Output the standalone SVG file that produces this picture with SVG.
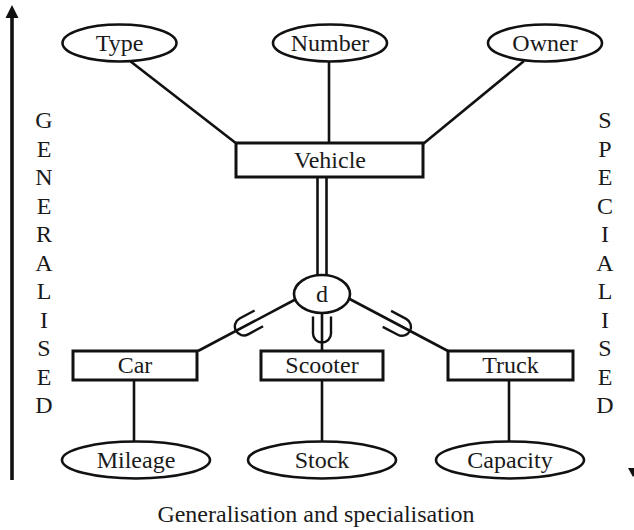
<svg xmlns="http://www.w3.org/2000/svg" width="634" height="530" viewBox="0 0 634 530" font-family="'Liberation Serif', 'DejaVu Serif', 'Times New Roman', Times, serif">
  <style>
    text { font-family: "Liberation Serif", "DejaVu Serif", "Times New Roman", Times, serif; font-size: 24px; fill: #1a1a1a; text-anchor: middle; }
    .shape { fill: #ffffff; stroke: #111111; stroke-width: 2.6; }
    .box { fill: #ffffff; stroke: #111111; stroke-width: 3; }
    .link { stroke: #111111; stroke-width: 2.6; fill: none; }
    .cup { stroke: #111111; stroke-width: 2.4; fill: none; }
  </style>
  <defs>
    <!-- subset symbol, opening towards -y -->
    <path id="cup" d="M -9 -14 V 3 A 9 9 0 0 0 9 3 V -14"/>
  </defs>

  <!-- direction arrows -->
  <g id="axis-generalised">
    <line x1="12" y1="16" x2="12" y2="480" stroke="#111" stroke-width="3.6"/>
    <polygon points="12,5 5.5,18 18.5,18" fill="#111"/>
  </g>
  <g id="axis-specialised">
    <polygon points="628,468 640,468 633,477" fill="#111"/>
  </g>

  <!-- side labels -->
  <g id="label-generalised">
    <text x="44" y="128">G</text>
    <text x="44" y="157">E</text>
    <text x="44" y="185">N</text>
    <text x="44" y="214">E</text>
    <text x="44" y="242">R</text>
    <text x="44" y="271">A</text>
    <text x="44" y="299">L</text>
    <text x="44" y="328">I</text>
    <text x="44" y="356">S</text>
    <text x="44" y="385">E</text>
    <text x="44" y="413">D</text>
  </g>
  <g id="label-specialised">
    <text x="605" y="128">S</text>
    <text x="605" y="157">P</text>
    <text x="605" y="185">E</text>
    <text x="605" y="214">C</text>
    <text x="605" y="242">I</text>
    <text x="605" y="271">A</text>
    <text x="605" y="299">L</text>
    <text x="605" y="328">I</text>
    <text x="605" y="356">S</text>
    <text x="605" y="385">E</text>
    <text x="605" y="413">D</text>
  </g>

  <!-- connectors -->
  <g id="connectors">
    <line class="link" x1="130" y1="61" x2="237" y2="144"/>
    <line class="link" x1="329" y1="61" x2="329" y2="144"/>
    <line class="link" x1="524" y1="61" x2="423" y2="144"/>
    <line class="link" x1="317.5" y1="177" x2="317.5" y2="285"/>
    <line class="link" x1="326.5" y1="177" x2="326.5" y2="285"/>
    <line class="link" x1="198" y1="351" x2="300" y2="297"/>
    <line class="link" x1="322" y1="305" x2="322" y2="351"/>
    <line class="link" x1="448" y1="351" x2="344" y2="296"/>
    <use href="#cup" class="cup" transform="translate(246.5,325) rotate(61.8)"/>
    <use href="#cup" class="cup" transform="translate(322,330.5)"/>
    <use href="#cup" class="cup" transform="translate(399.3,325.4) rotate(-62.3)"/>
    <line class="link" x1="134" y1="380" x2="134" y2="443"/>
    <line class="link" x1="322" y1="380" x2="322" y2="443"/>
    <line class="link" x1="509" y1="380" x2="509" y2="443"/>
  </g>

  <!-- attributes of Vehicle -->
  <g id="attr-type">
    <ellipse class="shape" cx="119.5" cy="43" rx="57" ry="18.5"/>
    <text x="119.5" y="51">Type</text>
  </g>
  <g id="attr-number">
    <ellipse class="shape" cx="330" cy="43" rx="57" ry="18.5"/>
    <text x="330" y="51">Number</text>
  </g>
  <g id="attr-owner">
    <ellipse class="shape" cx="545" cy="43" rx="57" ry="18.5"/>
    <text x="545" y="51">Owner</text>
  </g>

  <!-- superclass -->
  <g id="vehicle">
    <rect class="box" x="236" y="143" width="187" height="34"/>
    <text x="330" y="168">Vehicle</text>
  </g>

  <!-- disjointness circle -->
  <g id="disjoint">
    <ellipse class="shape" cx="322" cy="294" rx="28" ry="19"/>
    <text x="322" y="302">d</text>
  </g>

  <!-- subclasses -->
  <g id="car">
    <rect class="box" x="73" y="351" width="124" height="29"/>
    <text x="135" y="373">Car</text>
  </g>
  <g id="scooter">
    <rect class="box" x="261" y="351" width="122" height="29"/>
    <text x="322" y="373">Scooter</text>
  </g>
  <g id="truck">
    <rect class="box" x="448" y="351" width="125" height="29"/>
    <text x="510.5" y="373">Truck</text>
  </g>

  <!-- subclass attributes -->
  <g id="attr-mileage">
    <ellipse class="shape" cx="136" cy="460" rx="74" ry="18.5"/>
    <text x="136" y="468">Mileage</text>
  </g>
  <g id="attr-stock">
    <ellipse class="shape" cx="322" cy="460" rx="74" ry="18.5"/>
    <text x="322" y="468">Stock</text>
  </g>
  <g id="attr-capacity">
    <ellipse class="shape" cx="510" cy="460" rx="74" ry="18.5"/>
    <text x="510" y="468">Capacity</text>
  </g>

  <text id="caption" x="316" y="522">Generalisation and specialisation</text>
</svg>
